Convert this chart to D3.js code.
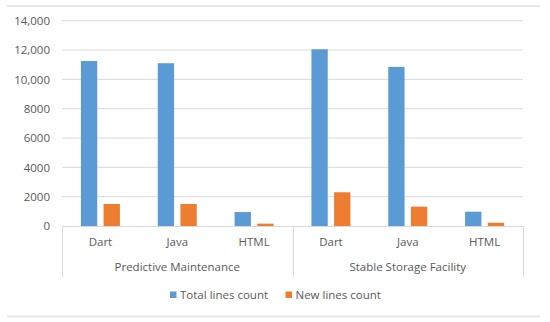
<!DOCTYPE html>
<html>
<head>
<meta charset="utf-8">
<script src="https://cdn.jsdelivr.net/npm/d3@7"></script>
<style>
  body { margin: 0; background: #fff; }
  text { font-family: "Open Sans", "Noto Sans", sans-serif; fill: #595959; }
</style>
</head>
<body>
<div id="wrapper"></div>
<script>
// data
const groups = ["Predictive Maintenance", "Stable Storage Facility"];
const languages = ["Dart", "Java", "HTML"];
const seriesNames = ["Total lines count", "New lines count"];
const totalLines = [11250, 11100, 950, 12050, 10850, 975];
const newLines = [1500, 1500, 160, 2300, 1320, 225];
const tickValues = [0, 2000, 4000, 6000, 8000, 10000, 12000, 14000];
const tickLabels = ["0", "2000", "4000", "6000", "8000", "10,000", "12,000", "14,000"];
const colors = ["#5B9BD5", "#ED7D31"];

function buildPlot() {
    const dimension = {
        width: 550,
        height: 322,
        margin: { top: 20.7, left: 62, right: 27, bottom: 96 }
    };
    dimension.boundedWidth = dimension.width - dimension.margin.left - dimension.margin.right;
    dimension.boundedHeight = 226 - dimension.margin.top;

    const svg = d3.select("#wrapper").append("svg")
        .attr("width", dimension.width)
        .attr("height", dimension.height);

    // frame lines top and bottom
    svg.append("line").attr("x1", 7).attr("x2", 540).attr("y1", 6).attr("y2", 6)
        .attr("stroke", "#e6e6e6").attr("stroke-width", 2);
    svg.append("line").attr("x1", 7).attr("x2", 540).attr("y1", 316.5).attr("y2", 316.5)
        .attr("stroke", "#e6e6e6").attr("stroke-width", 2);

    const bounded = svg.append("g")
        .attr("transform", `translate(${dimension.margin.left},${dimension.margin.top})`);

    // one slot per group/language pair
    const cats = [];
    groups.forEach(g => languages.forEach(l => cats.push(g + "|" + l)));

    const xScale = d3.scaleBand()
        .domain(cats)
        .range([0, dimension.boundedWidth]);

    const inner = d3.scaleBand()
        .domain(seriesNames)
        .range([xScale.bandwidth() / 2 - 19.5, xScale.bandwidth() / 2 + 19.5])
        .paddingInner(0.28);

    const yScale = d3.scaleLinear()
        .domain([0, 14000])
        .range([dimension.boundedHeight, 0]);

    // gridlines
    bounded.append("g").selectAll("line")
        .data(tickValues.slice(1))
        .join("line")
        .attr("x1", 0)
        .attr("x2", dimension.boundedWidth)
        .attr("y1", d => yScale(d))
        .attr("y2", d => yScale(d))
        .attr("stroke", "#d9d9d9")
        .attr("stroke-width", 1);

    // y tick labels
    const yAxisGenerator = d3.axisLeft(yScale)
        .tickValues(tickValues)
        .tickFormat((d, i) => tickLabels[i])
        .tickSize(0)
        .tickPadding(12);
    const yAxis = bounded.append("g").call(yAxisGenerator);
    yAxis.select(".domain").remove();
    yAxis.selectAll("text")
        .style("font-size", "11.5px")
        .attr("fill", "#595959");

    // bars
    const series = [totalLines, newLines];
    series.forEach((vals, si) => {
        bounded.append("g").selectAll("rect")
            .data(vals)
            .join("rect")
            .attr("x", (d, i) => xScale(cats[i]) + inner(seriesNames[si]))
            .attr("width", inner.bandwidth())
            .attr("y", d => yScale(d))
            .attr("height", d => dimension.boundedHeight - yScale(d))
            .attr("fill", colors[si]);
    });

    // category axis box
    const axisG = bounded.append("g")
        .attr("transform", `translate(0,${dimension.boundedHeight})`);
    axisG.append("line")
        .attr("x1", 0).attr("x2", dimension.boundedWidth)
        .attr("y1", 0.5).attr("y2", 0.5)
        .attr("stroke", "#d9d9d9");
    const groupEdges = [0, xScale(cats[3]), dimension.boundedWidth];
    axisG.selectAll(".sep")
        .data(groupEdges)
        .join("line")
        .attr("class", "sep")
        .attr("x1", d => Math.round(d) + 0.5)
        .attr("x2", d => Math.round(d) + 0.5)
        .attr("y1", 0)
        .attr("y2", 51)
        .attr("stroke", "#d9d9d9");

    axisG.selectAll(".lang")
        .data(cats)
        .join("text")
        .attr("class", "lang")
        .attr("x", d => xScale(d) + xScale.bandwidth() / 2)
        .attr("y", 16.3)
        .attr("dy", "0.35em")
        .attr("text-anchor", "middle")
        .style("font-size", "11.5px")
        .text(d => d.split("|")[1]);

    axisG.selectAll(".grp")
        .data(groups)
        .join("text")
        .attr("class", "grp")
        .attr("x", d => xScale(d + "|" + languages[1]) + xScale.bandwidth() / 2)
        .attr("y", 41.3)
        .attr("dy", "0.35em")
        .attr("text-anchor", "middle")
        .style("font-size", "11.5px")
        .text(d => d);

    // legend
    const legendX = [170, 285.5];
    const legend = svg.append("g");
    seriesNames.forEach((name, i) => {
        legend.append("rect")
            .attr("x", legendX[i])
            .attr("y", 291.5)
            .attr("width", 6.5)
            .attr("height", 6.5)
            .attr("fill", colors[i]);
        legend.append("text")
            .attr("x", legendX[i] + 10)
            .attr("y", 295)
            .attr("dy", "0.35em")
            .style("font-size", "11.5px")
            .text(name);
    });
}

buildPlot();
</script>
</body>
</html>
